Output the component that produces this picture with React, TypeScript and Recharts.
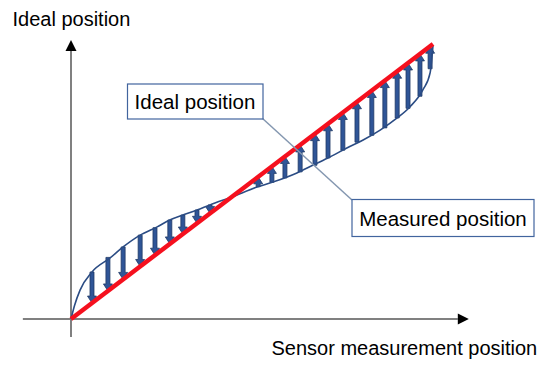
import React from "react";
import { ComposedChart, Line, XAxis, YAxis, ReferenceLine } from "recharts";

// measured (sensor) curve, in % of full scale
const curveX = [0, 1, 2.5, 5.8, 10.8, 14.4, 19.1, 23.8, 27.3, 30.9, 34.8, 38.4, 44.5, 51.4, 55.8, 62.4, 66.9, 71.5, 76.2, 80.7, 85.4, 90.1, 93.6, 97.2, 99.2, 100];
const curveY = [0, 5, 10.5, 17.1, 22.2, 26.2, 30.5, 33.5, 36, 37.8, 39.6, 41.5, 44.4, 48, 49.8, 53.1, 56, 58.9, 62.2, 65.1, 68.7, 73.1, 77.1, 83.3, 89.5, 99.5];

// ideal line end points
const idealX = [0, 100];
const idealY = [0, 100];

// correction arrows: x position, measured value (arrow goes to ideal = x)
const arrowX = [5.8, 10.2, 14.4, 19.1, 23.2, 27.3, 30.9, 34.8, 38.4, 51.7, 55.5, 59.1, 63.3, 67.4, 71.0, 75.1, 79.0, 83.1, 86.7, 90.1, 93.1, 96.4, 99.2];
const arrowFrom = [17.1, 22.4, 26.2, 30.5, 33.2, 36, 37.8, 39.6, 41.5, 48.1, 49.7, 51.3, 53.5, 55.9, 58.6, 61.4, 64.3, 66.8, 69.5, 73.1, 76.6, 81, 91];

const axisTitleY = "Ideal position";
const axisTitleX = "Sensor measurement position";
const calloutIdeal = "Ideal position";
const calloutMeasured = "Measured position";

const curveData = curveX.map((x, i) => ({ x, y: curveY[i] }));
const idealData = idealX.map((x, i) => ({ x, y: idealY[i] }));

const W = 543;
const H = 381;
const FONT = "'Liberation Sans', Arial, sans-serif";

function Arrow(props: any) {
  const { x1, y1, x2, y2 } = props;
  if ([x1, y1, x2, y2].some((v) => typeof v !== "number" || isNaN(v))) return null;
  const dir = y2 > y1 ? 1 : -1;
  const head = 7;
  const hw = 4.5;
  const sw = 2;
  const yb = y2 - dir * head;
  const d = `M${x1 - sw},${y1} L${x1 + sw},${y1} L${x1 + sw},${yb} L${x1 + hw},${yb} L${x2},${y2} L${x1 - hw},${yb} L${x1 - sw},${yb} Z`;
  return <path d={d} fill="#2F5597" stroke="#1F3864" strokeWidth={0.8} />;
}

function AxisArrow(props: any) {
  const { x1, y1, x2, y2 } = props;
  if ([x1, y1, x2, y2].some((v) => typeof v !== "number" || isNaN(v))) return null;
  const vertical = Math.abs(x1 - x2) < 0.5;
  const len = 11;
  const hw = 5.5;
  let tri = "";
  let lx2 = x2;
  let ly2 = y2;
  if (vertical) {
    ly2 = y2 + len;
    tri = `M${x2},${y2} L${x2 + hw},${y2 + len} L${x2 - hw},${y2 + len} Z`;
  } else {
    lx2 = x2 - len;
    tri = `M${x2},${y2} L${x2 - len},${y2 - hw} L${x2 - len},${y2 + hw} Z`;
  }
  return (
    <g>
      <line x1={x1} y1={y1} x2={lx2} y2={ly2} stroke="#808080" strokeWidth={2} />
      <path d={tri} fill="#000" />
    </g>
  );
}

export default function App() {
  // domain chosen so that origin sits at the lower-left of the sketch
  const xDomain = [-19.613, 130.387];
  const yDomain = [-22.545, 116.0];
  return (
    <div style={{ position: "absolute", left: 0, top: 0, width: W, height: H, background: "#fff" }}>
      <ComposedChart width={W} height={H} margin={{ top: 0, right: 0, bottom: 0, left: 0 }}>
        <XAxis hide type="number" dataKey="x" domain={xDomain} allowDataOverflow />
        <YAxis hide type="number" dataKey="y" domain={yDomain} allowDataOverflow />
        <ReferenceLine segment={[{ x: 0, y: -6.5 }, { x: 0, y: 101.5 }]} ifOverflow="visible" shape={AxisArrow} />
        <ReferenceLine segment={[{ x: -13.3, y: 0 }, { x: 109.9, y: 0 }]} ifOverflow="visible" shape={AxisArrow} />
        {arrowX.map((x, i) => (
          <ReferenceLine
            key={i}
            segment={[{ x, y: arrowFrom[i] }, { x, y: x }]}
            ifOverflow="visible"
            shape={Arrow}
          />
        ))}
        <Line
          data={curveData}
          dataKey="y"
          name="measured"
          type="monotone"
          stroke="#2B4C84"
          strokeWidth={1.6}
          dot={false}
          activeDot={false}
          isAnimationActive={false}
        />
        <Line
          data={idealData}
          dataKey="y"
          name="ideal"
          type="linear"
          stroke="#F5101E"
          strokeWidth={4.5}
          dot={false}
          activeDot={false}
          isAnimationActive={false}
        />
      </ComposedChart>
      <svg width={W} height={H} style={{ position: "absolute", left: 0, top: 0, pointerEvents: "none" }}>
        <text x={12.5} y={26} fontFamily={FONT} fontSize={20} fill="#000">{axisTitleY}</text>
        <text x={271.5} y={355} fontFamily={FONT} fontSize={20} fill="#000">{axisTitleX}</text>
        <line x1={262} y1={118} x2={352} y2={200} stroke="#8497B0" strokeWidth={1.5} />
        <rect x={127.5} y={84} width={135.5} height={35} fill="#fff" stroke="#41649E" strokeWidth={1.2} />
        <text x={195} y={109} textAnchor="middle" fontFamily={FONT} fontSize={20.5} fill="#000">{calloutIdeal}</text>
        <rect x={352} y={199.5} width={182} height={37} fill="#fff" stroke="#41649E" strokeWidth={1.2} />
        <text x={443} y={225.5} textAnchor="middle" fontFamily={FONT} fontSize={20.5} fill="#000">{calloutMeasured}</text>
      </svg>
    </div>
  );
}
